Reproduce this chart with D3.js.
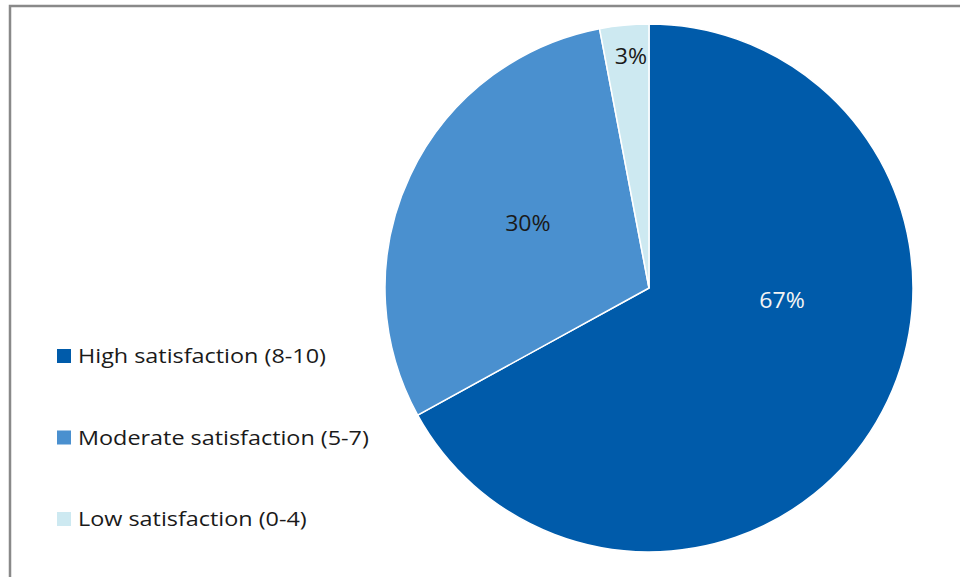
<!DOCTYPE html>
<html>
<head>
<meta charset="utf-8">
<script src="https://cdn.jsdelivr.net/npm/d3@7"></script>
<style>
  html, body { margin: 0; padding: 0; background: #fff; }
  svg { display: block; }
  text { font-family: "Open Sans", "Liberation Sans", sans-serif; }
</style>
</head>
<body>
<svg id="chart" width="960" height="577"></svg>
<script>
// Satisfaction breakdown (percent of respondents)
const categories = ["High satisfaction (8-10)", "Moderate satisfaction (5-7)", "Low satisfaction (0-4)"];
const values = [67, 30, 3];
const valueLabels = ["67%", "30%", "3%"];
const colors = ["#005BAA", "#4A90CF", "#CDE9F1"];
const labelColors = ["#f4f4f4", "#1a1a1a", "#1a1a1a"];

const svg = d3.select("#chart");
const W = 960, H = 577;

// chart frame
svg.append("rect")
  .attr("x", 10).attr("y", 6)
  .attr("width", W + 10).attr("height", H + 10)
  .attr("fill", "#fff")
  .attr("stroke", "#898989")
  .attr("stroke-width", 2.5);

const cx = 649, cy = 288, R = 264;

const pie = d3.pie().sort(null).value(d => d)(values);
const arc = d3.arc().innerRadius(0).outerRadius(R);

const g = svg.append("g").attr("transform", `translate(${cx},${cy})`);

g.selectAll("path.slice")
  .data(pie)
  .join("path")
  .attr("class", "slice")
  .attr("d", arc)
  .attr("fill", (d, i) => colors[i])
  .attr("stroke", "#fff")
  .attr("stroke-width", 1.5);

// label placement: radius fraction and angular shift (radians) for each slice
const labelRadius = [0.506, 0.519, 0.878];
const labelShift = [-0.44, 0.047, 0.016];

g.selectAll("text.val")
  .data(pie)
  .join("text")
  .attr("class", "val")
  .attr("transform", (d, i) => {
    const a = (d.startAngle + d.endAngle) / 2 + labelShift[i];
    const r = R * labelRadius[i];
    return `translate(${r * Math.sin(a)},${-r * Math.cos(a)}) scale(1.1,1)`;
  })
  .attr("text-anchor", "middle")
  .attr("dy", "0.36em")
  .attr("font-size", 21)
  .attr("fill", (d, i) => labelColors[i])
  .text((d, i) => valueLabels[i]);

// legend
const legend = svg.append("g");
const ly = d3.scalePoint().domain(categories).range([356, 519]);

legend.selectAll("rect")
  .data(categories)
  .join("rect")
  .attr("x", 57)
  .attr("y", d => ly(d) - 7)
  .attr("width", 14).attr("height", 14)
  .attr("fill", (d, i) => colors[i]);

legend.selectAll("text")
  .data(categories)
  .join("text")
  .attr("transform", d => `translate(78,${ly(d)}) scale(1.2,1)`)
  .attr("dy", "0.36em")
  .attr("font-size", 19.5)
  .attr("fill", "#1a1a1a")
  .text(d => d);
</script>
</body>
</html>
